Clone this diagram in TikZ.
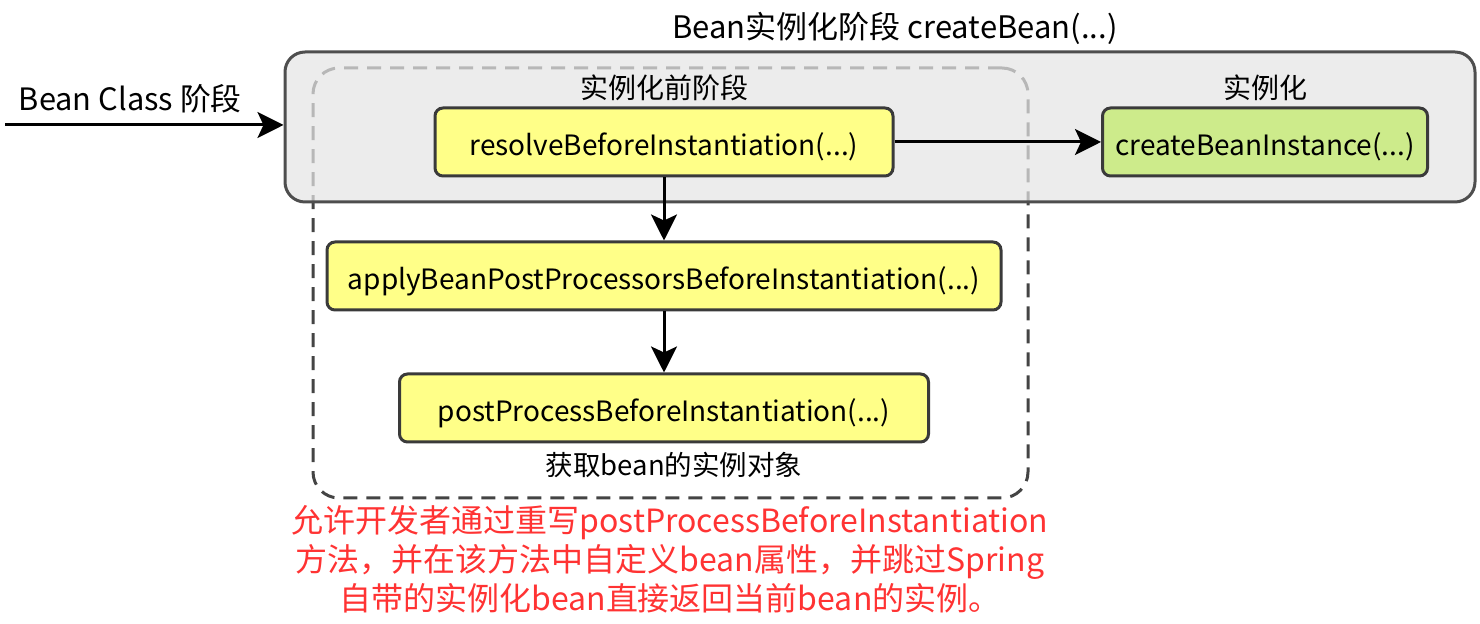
\documentclass[tikz,border=0pt]{standalone}
\usepackage{fontspec}
\setmainfont{Noto Sans CJK SC}
\usetikzlibrary{arrows.meta}

\definecolor{boxyellow}{HTML}{FFFF88}
\definecolor{boxgreen}{HTML}{CDEB8B}
\definecolor{phasegray}{HTML}{E4E4E4}
\definecolor{edgegray}{HTML}{3A3A3A}
\definecolor{notered}{HTML}{FF3333}

\tikzset{
  method/.style={draw=edgegray, line width=1.5pt, rounded corners=4pt, fill=boxyellow,
    minimum height=34pt, text height=17pt, text depth=3pt,
    font=\fontsize{14pt}{16pt}\selectfont},
  phase box/.style={draw=edgegray!90, line width=1.5pt, rounded corners=10pt,
    fill=phasegray, fill opacity=0.72, minimum width=595pt, minimum height=75pt},
  stage box/.style={draw=edgegray!95, line width=1.5pt, rounded corners=13pt,
    dash pattern=on 7pt off 4.5pt, minimum width=357.5pt, minimum height=215pt},
  caption/.style={font=\fontsize{14pt}{16pt}\selectfont},
  note/.style={text=notered, align=center, font=\fontsize{16pt}{19.5pt}\selectfont}
}

\begin{document}
\begin{tikzpicture}[x=0.5pt,y=-0.5pt,>={Stealth[length=13pt,width=13pt,inset=3pt]},
    line width=1.5pt,node distance=67pt]
  \useasboundingbox (0,0) rectangle (1480,624);

  % stages
  \node[stage box] (pre)   at (670.5,283) {};
  \node[phase box] (phase) at (880,127) {};
  \node[caption, font=\fontsize{15.5pt}{17pt}\selectfont] (ttl) at (895,28) {Bean实例化阶段 createBean(...)};

  % methods
  \node[method, minimum width=229pt]   (resolve) at (664,142) {resolveBeforeInstantiation(...)};
  \node[method, minimum width=337pt]   (apply)  [below of=resolve] {applyBeanPostProcessorsBeforeInstantiation(...)};
  \node[method, minimum width=264.5pt] (post)   [below of=apply, node distance=66pt] {postProcessBeforeInstantiation(...)};
  \node[method, fill=boxgreen, minimum width=162.5pt] (create) [right of=resolve, node distance=300.5pt] {createBeanInstance(...)};

  \node[caption] (prelbl)  [above of=resolve, node distance=27pt] {实例化前阶段};
  \node[caption] (newlbl)  [above of=create, node distance=27pt]  {实例化};
  \node[caption, font=\fontsize{13.75pt}{15pt}\selectfont, xshift=5pt] (objlbl) [below of=post, node distance=28.5pt] {获取bean的实例对象};

  \node[note] (tip) at (670,559) {允许开发者通过重写postProcessBeforeInstantiation\\方法，并在该方法中自定义bean属性，并跳过Spring\\自带的实例化bean直接返回当前bean的实例。};

  % flow
  \coordinate (src) at (5,125);
  \draw[->] (src) -- (src -| phase.west) node[caption, font=\fontsize{15.4pt}{17pt}\selectfont, midway, above=2pt, xshift=-7pt] {Bean Class 阶段};
  \draw[->] (resolve) -- (create);
  \draw[->] (resolve) -- (apply);
  \draw[->] (apply) -- (post);
\end{tikzpicture}
\end{document}
